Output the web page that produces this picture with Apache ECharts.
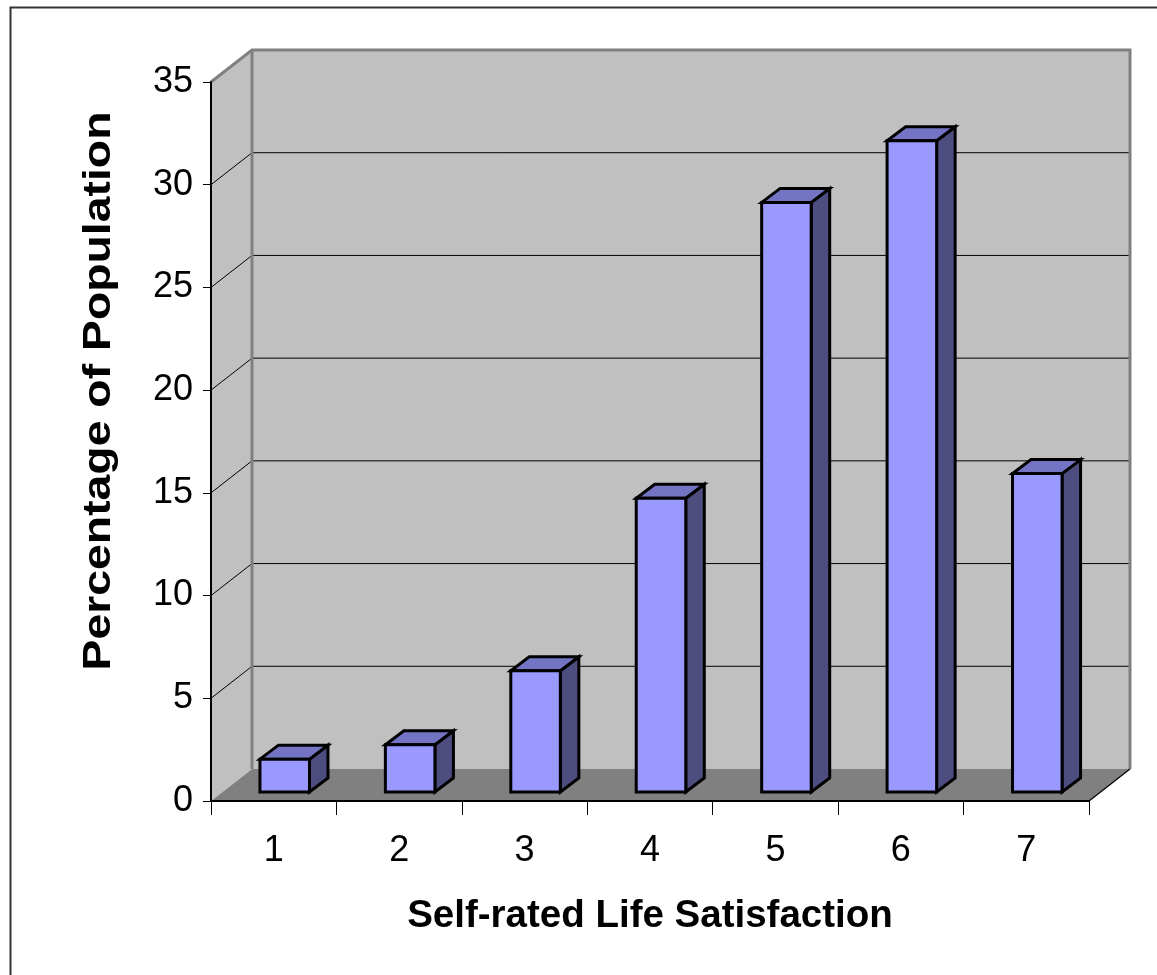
<!DOCTYPE html>
<html>
<head>
<meta charset="utf-8">
<script src="https://cdn.jsdelivr.net/npm/echarts@6/dist/echarts.min.js"></script>
<style>
  html, body { margin: 0; padding: 0; background: #ffffff; }
  #chart { width: 1157px; height: 975px; }
</style>
</head>
<body>
<div id="chart"></div>
<script>
// Survey distribution: share of respondents at each life-satisfaction score
const categories = ['1', '2', '3', '4', '5', '6', '7'];
const percentages = [1.6, 2.3, 5.9, 14.3, 28.7, 31.7, 15.5];
const valueTicks = [0, 5, 10, 15, 20, 25, 30, 35];
const xTitle = 'Self-rated Life Satisfaction';
const yTitle = 'Percentage of Population';

const FONT = "'Liberation Sans', Arial, sans-serif";

// Oblique projection of the chart box: depth shift of the back wall
const WALL_DX = 41, WALL_DY = 32;
// Column placement inside the box
const BAR_OFF_X = 11, BAR_OFF_Y = 9;   // shift of the column front face into the box
const BAR_DX = 18.5, BAR_DY = 14;      // column depth
const BAR_RATIO = 0.395;               // column width relative to category width

const chart = echarts.init(document.getElementById('chart'), null, { renderer: 'canvas' });

function renderFrame(params, api) {
  const cs = params.coordSys;
  const x0 = cs.x, x1 = cs.x + cs.width;
  const yTop = cs.y, yBase = cs.y + cs.height;
  const kids = [];
  // back wall
  kids.push({
    type: 'rect',
    shape: { x: x0 + WALL_DX, y: yTop - WALL_DY, width: cs.width, height: cs.height },
    style: { fill: '#C0C0C0', stroke: null }
  });
  // side wall
  kids.push({
    type: 'polygon',
    shape: { points: [[x0, yTop], [x0 + WALL_DX, yTop - WALL_DY], [x0 + WALL_DX, yBase - WALL_DY], [x0, yBase]] },
    style: { fill: '#C0C0C0', stroke: null }
  });
  // gridlines wrapping side wall and back wall
  valueTicks.forEach(function (v) {
    if (v === valueTicks[0] || v === valueTicks[valueTicks.length - 1]) return;
    const y = api.coord([0, v])[1];
    kids.push({
      type: 'polyline',
      shape: { points: [[x0, y], [x0 + WALL_DX, y - WALL_DY], [x1 + WALL_DX, y - WALL_DY]] },
      style: { stroke: '#000000', lineWidth: 1, fill: null }
    });
  });
  // wall outlines
  kids.push({
    type: 'polyline',
    shape: { points: [[x0, yTop], [x0 + WALL_DX, yTop - WALL_DY], [x1 + WALL_DX, yTop - WALL_DY], [x1 + WALL_DX, yBase - WALL_DY]] },
    style: { stroke: '#808080', lineWidth: 3, fill: null }
  });
  kids.push({
    type: 'line',
    shape: { x1: x0 + WALL_DX, y1: yTop - WALL_DY, x2: x0 + WALL_DX, y2: yBase - WALL_DY },
    style: { stroke: '#808080', lineWidth: 3 }
  });
  // floor
  kids.push({
    type: 'polygon',
    shape: { points: [[x0, yBase], [x1, yBase], [x1 + WALL_DX, yBase - WALL_DY], [x0 + WALL_DX, yBase - WALL_DY]] },
    style: { fill: '#808080', stroke: null }
  });
  kids.push({
    type: 'line',
    shape: { x1: x1, y1: yBase, x2: x1 + WALL_DX, y2: yBase - WALL_DY },
    style: { stroke: '#000000', lineWidth: 1.2 }
  });
  return { type: 'group', children: kids };
}

function renderColumn(params, api) {
  const idx = api.value(0);
  const val = api.value(1);
  const base = api.coord([idx, 0]);
  const top = api.coord([idx, val]);
  const w = api.size([1, 0])[0] * BAR_RATIO;
  const xl = base[0] - w / 2 + BAR_OFF_X;
  const xr = xl + w;
  const yb = base[1] - BAR_OFF_Y;
  const yt = top[1] - BAR_OFF_Y;
  const edge = { stroke: '#000000', lineWidth: 3, lineJoin: 'miter' };
  return {
    type: 'group',
    children: [
      {
        type: 'polygon',
        shape: { points: [[xr, yt], [xr + BAR_DX, yt - BAR_DY], [xr + BAR_DX, yb - BAR_DY], [xr, yb]] },
        style: Object.assign({ fill: '#4D4D80' }, edge)
      },
      {
        type: 'polygon',
        shape: { points: [[xl, yt], [xr, yt], [xr + BAR_DX, yt - BAR_DY], [xl + BAR_DX, yt - BAR_DY]] },
        style: Object.assign({ fill: '#7474C4' }, edge)
      },
      {
        type: 'rect',
        shape: { x: xl, y: yt, width: w, height: yb - yt },
        style: Object.assign({ fill: '#9999FF' }, edge)
      }
    ]
  };
}

const option = {
  backgroundColor: '#ffffff',
  animation: false,
  grid: { left: 211, right: 68, top: 82, bottom: 174, containLabel: false },
  xAxis: {
    type: 'category',
    data: categories,
    boundaryGap: true,
    z: 10,
    axisLine: { show: true, lineStyle: { color: '#000000', width: 2 } },
    axisTick: { show: true, length: 14, lineStyle: { color: '#000000', width: 1 } },
    axisLabel: { color: '#000000', fontSize: 36, fontFamily: FONT, margin: 32 },
    splitLine: { show: false }
  },
  yAxis: {
    type: 'value',
    min: valueTicks[0],
    max: valueTicks[valueTicks.length - 1],
    interval: valueTicks[1] - valueTicks[0],
    z: 10,
    axisLine: { show: true, lineStyle: { color: '#000000', width: 2 } },
    axisTick: { show: true, length: 8, lineStyle: { color: '#000000', width: 1 } },
    axisLabel: { color: '#000000', fontSize: 36, fontFamily: FONT, margin: 18 },
    splitLine: { show: false }
  },
  series: [
    {
      type: 'custom',
      name: 'frame',
      z: 1,
      silent: true,
      renderItem: renderFrame,
      data: [[0, 0]],
      clip: false
    },
    {
      type: 'custom',
      name: 'columns',
      z: 3,
      renderItem: renderColumn,
      data: categories.map(function (c, i) { return [i, percentages[i]]; }),
      encode: { x: 0, y: 1 },
      clip: false
    }
  ],
  graphic: [
    {
      type: 'polyline',
      shape: { points: [[10.5, 975], [10.5, 7.5], [1157, 7.5]] },
      style: { stroke: '#333333', lineWidth: 2, fill: null }
    },
    {
      type: 'text',
      x: 650, y: 916,
      style: {
        text: xTitle, fill: '#000000', font: 'bold 38.5px ' + FONT,
        align: 'center', verticalAlign: 'middle'
      }
    },
    {
      type: 'text',
      x: 100, y: 391,
      rotation: Math.PI / 2,
      scaleX: 1.22,
      style: {
        text: yTitle, fill: '#000000', font: 'bold 38px ' + FONT,
        align: 'center', verticalAlign: 'middle'
      }
    }
  ]
};

chart.setOption(option);
</script>
</body>
</html>
